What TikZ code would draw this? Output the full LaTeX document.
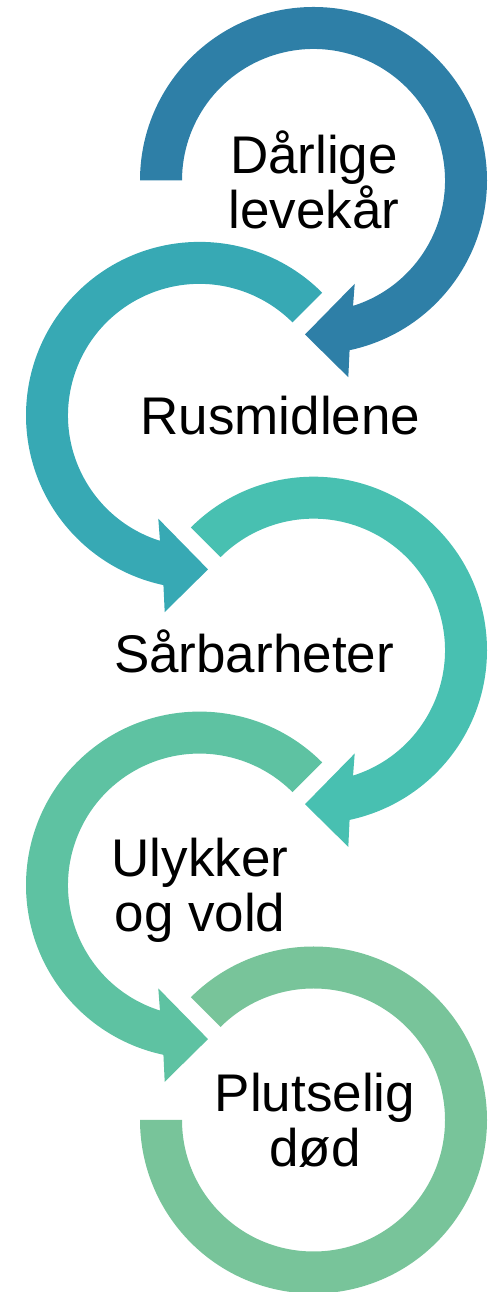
\documentclass[tikz,border=0pt]{standalone}
\usepackage{fontspec}
\setmainfont{Liberation Sans}
\definecolor{ringA}{HTML}{2E7FA7}
\definecolor{ringB}{HTML}{37A9B4}
\definecolor{ringC}{HTML}{48C0B1}
\definecolor{ringD}{HTML}{5EC2A2}
\definecolor{ringE}{HTML}{78C49A}
\begin{document}
\begin{tikzpicture}[
        x=1pt, y=1pt,
        stage/.style={font=\fontsize{53}{55}\selectfont, inner sep=0pt, align=center, text=black}
    ]
        \useasboundingbox (0,0) rectangle (496,1292);
        % Circular arrows, right and left in turn
        \foreach \cx/\cy/\flip/\from/\col in {313.5/1111.5/1/180/ringA,199.5/876.6/-1/135/ringB,313.5/641.8/1/135/ringC,199.5/406.9/-1/135/ringD}
        {
            \begin{scope}[shift={(\cx,\cy)}, xscale=\flip]
                \fill[\col] (\from:173.5) arc[start angle=\from, end angle=-78, radius=173.5]
                    -- (34.8,-196.7) -- (-8.5,-154) -- (41.2,-103.3)
                    -- (-72.5:131.5) arc[start angle=-72.5, end angle=\from, radius=131.5] -- cycle;
            \end{scope}
        }
        % Last ring has no head
        \fill[ringE] (313.5,172) ++(135:173.5) arc[start angle=135, end angle=-180, radius=173.5]
            -- ++(42,0) arc[start angle=-180, end angle=135, radius=131.5] -- cycle;
        % Stage texts
        \node[stage] (levekar) at (314,1112.5) {Dårlige\\levekår};
        \node[stage, anchor=base] (rus) at (280.5,857.7) {Rusmidlene};
        \node[stage, anchor=base] (sarbar) at (254,619.3) {Sårbarheter};
        \node[stage] (ulykker) at (200,401.3) {Ulykker\\og vold};
        \node[stage] (dod) at (315,171.8) {Plutselig\\død};
    \end{tikzpicture}
\end{document}
